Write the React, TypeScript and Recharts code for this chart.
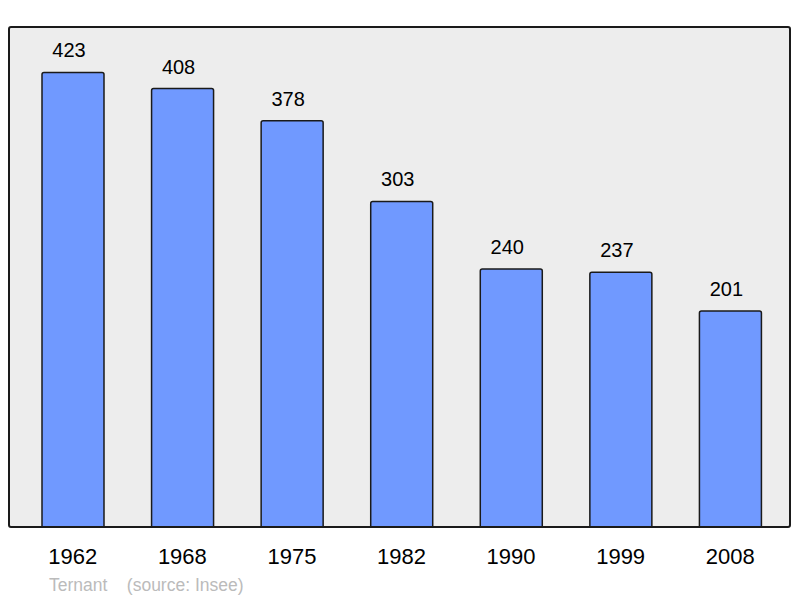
import { BarChart, Bar, XAxis, YAxis, CartesianGrid, LabelList } from 'recharts'

const years = ['1962', '1968', '1975', '1982', '1990', '1999', '2008']
const population = [423, 408, 378, 303, 240, 237, 201]
const yMax = 465.3

const data = years.map((year, i) => ({ year, value: population[i] }))

const font = '"Liberation Sans", Arial, sans-serif'

export default function App() {
  return (
    <div
      style={{
        position: 'absolute',
        left: 0,
        top: 0,
        width: 800,
        height: 598,
        overflow: 'hidden',
        fontFamily: font,
      }}
    >
      <BarChart
        width={800}
        height={598}
        data={data}
        margin={{ top: 27, right: 9, bottom: 0, left: 9 }}
        barCategoryGap={0}
      >
        <CartesianGrid fill="#ededed" horizontal={false} vertical={false} />
        <XAxis
          dataKey="year"
          height={71}
          axisLine={false}
          tickLine={false}
          tickSize={0}
          tickMargin={21}
          padding={{ left: 9, right: 6 }}
          tick={{ fontSize: 22, fill: '#000', fontFamily: font }}
        />
        <YAxis hide width={0} domain={[0, yMax]} />
        <Bar
          dataKey="value"
          fill="#7099ff"
          stroke="#1a1a1a"
          strokeWidth={1.5}
          barSize={62}
          radius={[2, 2, 0, 0]}
          isAnimationActive={false}
        >
          <LabelList
            dataKey="value"
            position="top"
            offset={15}
            dx={-4}
            style={{ fontSize: 20, fill: '#000', fontFamily: font }}
          />
        </Bar>
      </BarChart>
      <div
        style={{
          position: 'absolute',
          left: 8,
          top: 26,
          width: 779,
          height: 498,
          border: '2px solid #1a1a1a',
          borderRadius: 3,
          pointerEvents: 'none',
        }}
      />
      <div
        style={{
          position: 'absolute',
          left: 49,
          top: 575,
          fontSize: 17.5,
          color: '#bbbbbb',
          whiteSpace: 'pre',
        }}
      >
        {'Ternant    (source: Insee)'}
      </div>
    </div>
  )
}
